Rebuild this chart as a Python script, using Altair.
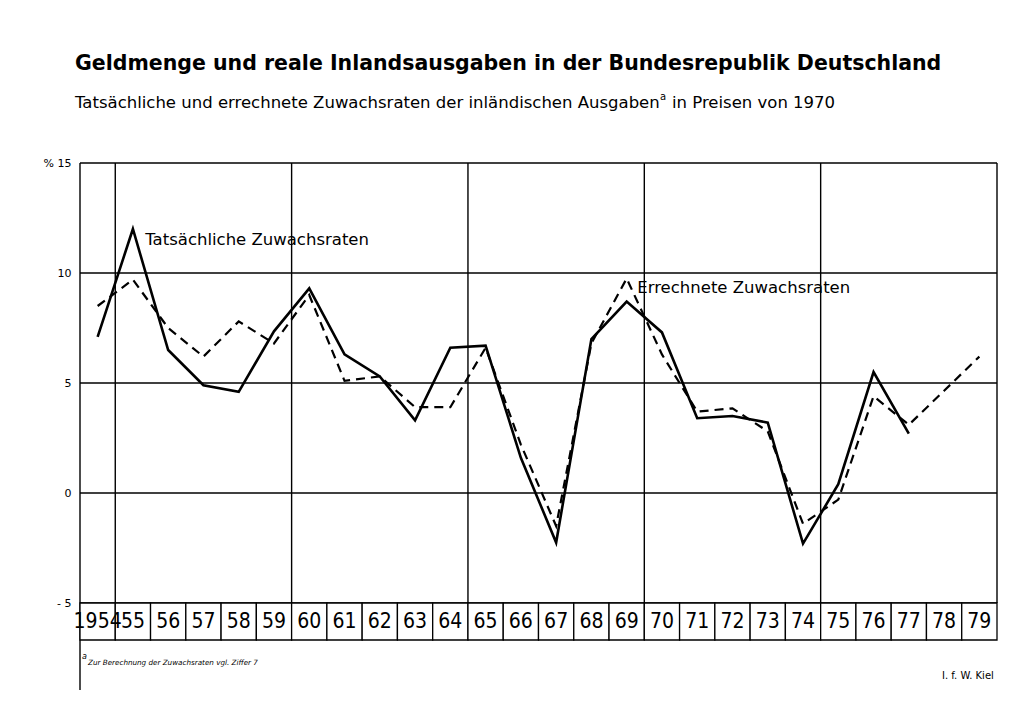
import altair as alt
import pandas as pd

years = list(range(1954, 1980))
year_labels = ["1954"] + [str(y)[2:] for y in range(1955, 1980)]

actual_years = list(range(1954, 1978))
actual = [7.1, 12.0, 6.5, 4.9, 4.6, 7.35, 9.3, 6.3, 5.3, 3.3, 6.6, 6.7,
          1.6, -2.25, 7.0, 8.7, 7.3, 3.4, 3.5, 3.2, -2.3, 0.4, 5.5, 2.7]
calc_years = list(range(1954, 1980))
calculated = [8.5, 9.7, 7.5, 6.2, 7.8, 6.8, 9.0, 5.1, 5.3, 3.9, 3.9, 6.6,
              2.2, -1.5, 6.8, 9.75, 6.3, 3.7, 3.85, 2.8, -1.4, -0.3, 4.4, 3.1, 4.65, 6.2]

y_ticks = [-5, 0, 5, 10, 15]
h_lines = [-5, 0, 5, 10, 15]
v_lines = [1953.5, 1954.5, 1959.5, 1964.5, 1969.5, 1974.5, 1979.5]

series_labels = ["Tatsächliche Zuwachsraten", "Errechnete Zuwachsraten"]
label_years = [1955.35, 1969.3]
label_values = [11.5, 9.3]

title = "Geldmenge und reale Inlandsausgaben in der Bundesrepublik Deutschland"
subtitle_a = "Tatsächliche und errechnete Zuwachsraten der inländischen Ausgaben"
subtitle_b = "in Preisen von 1970"
footnote = "Zur Berechnung der Zuwachsraten vgl. Ziffer 7"
source = "I. f. W. Kiel"

W, H = 917, 440
FONT = "DejaVu Sans"

xs = alt.Scale(domain=[1953.5, 1979.5], nice=False, zero=False)
ys = alt.Scale(domain=[-5, 15], nice=False, zero=False)

df_a = pd.DataFrame({"year": actual_years, "value": actual})
df_c = pd.DataFrame({"year": calc_years, "value": calculated})

x_enc = alt.X("year:Q", scale=xs, axis=None)
y_enc = alt.Y("value:Q", scale=ys, title=None,
              axis=alt.Axis(values=y_ticks, grid=False, domain=False, ticks=False,
                            labelFontSize=11, labelFont=FONT, labelColor="black",
                            labelPadding=9,
                            labelExpr="datum.value == 15 ? '% 15' : (datum.value == -5 ? '- 5' : datum.label)"))

hrule = alt.Chart(pd.DataFrame({"value": h_lines})).mark_rule(
    color="black", strokeWidth=1.4).encode(y=y_enc)
vrule = alt.Chart(pd.DataFrame({"year": v_lines})).mark_rule(
    color="black", strokeWidth=1.4).encode(x=x_enc)
left_ext = alt.Chart(pd.DataFrame({"year": [1953.5]})).mark_rule(
    color="black", strokeWidth=1.4).encode(x=x_enc, y=alt.value(H), y2=alt.value(527))

df_box = pd.DataFrame({"x0": [y - 0.5 for y in years], "x1": [y + 0.5 for y in years],
                       "year": years, "lab": year_labels})
boxes = alt.Chart(df_box).mark_rect(fill="white", stroke="black", strokeWidth=1.3).encode(
    x=alt.X("x0:Q", scale=xs, axis=None), x2="x1:Q",
    y=alt.value(H), y2=alt.value(H + 37))
box_text = alt.Chart(df_box).mark_text(
    font="Liberation Sans Narrow, DejaVu Sans Condensed, Arial Narrow, sans-serif",
    fontSize=21, baseline="middle", color="black").encode(
    x=x_enc, y=alt.value(H + 19), text="lab:N")

line_a = alt.Chart(df_a).mark_line(color="black", strokeWidth=2.6).encode(x=x_enc, y=y_enc)
line_c = alt.Chart(df_c).mark_line(color="black", strokeWidth=2.2,
                                   strokeDash=[9, 6]).encode(x=x_enc, y=y_enc)

df_lab = pd.DataFrame({"year": label_years, "value": label_values, "t": series_labels})
lab = alt.Chart(df_lab).mark_text(font=FONT, fontSize=16.5, align="left",
                                  baseline="middle", color="black").encode(
    x=x_enc, y=y_enc, text="t:N")

def txt(s, x, y, **kw):
    return alt.Chart(pd.DataFrame({"t": [s]})).mark_text(
        align="left", baseline="alphabetic", color="black", **kw).encode(
        x=alt.value(x), y=alt.value(y), text="t:N")

t1 = txt(title, -5, -93, font=FONT, fontSize=20.5, fontWeight="bold")
t2 = txt(subtitle_a, -5, -55, font=FONT, fontSize=16.5)
t2a = txt("a", 580, -63, font=FONT, fontSize=10)
t2b = txt(subtitle_b, 592, -55, font=FONT, fontSize=16.5)
fn_a = txt("a", 2, 496, font=FONT, fontSize=8, fontStyle="italic")
fn = txt(footnote, 8, 502, font=FONT, fontSize=7.2, fontStyle="italic")
src = txt(source, 862, 516, font=FONT, fontSize=10)

chart = alt.layer(hrule, vrule, left_ext, line_c, line_a, lab, boxes, box_text,
                  t1, t2, t2a, t2b, fn_a, fn, src).properties(
    width=W, height=H,
    autosize=alt.AutoSizeParams(type="none"),
    padding={"left": 72, "top": 155, "right": 26, "bottom": 100},
    background="white",
).configure_view(stroke=None)

chart.save("out.html", embed_options={"renderer": "svg", "actions": False})
